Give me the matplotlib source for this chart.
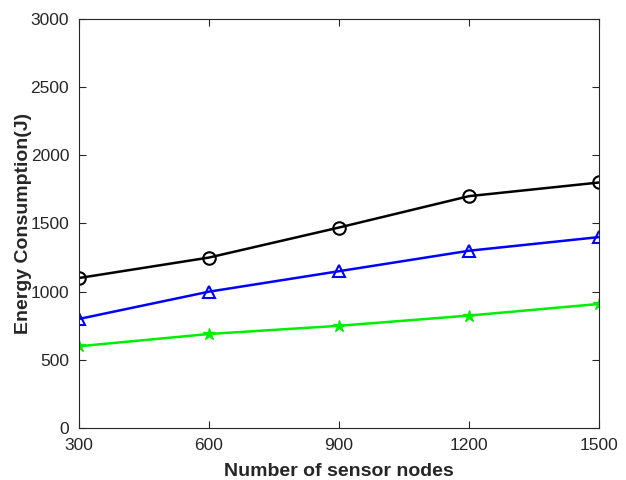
import matplotlib
matplotlib.use("Agg")
import matplotlib.pyplot as plt

plt.rcParams['font.family'] = ['Liberation Sans', 'DejaVu Sans']

nodes = [300, 600, 900, 1200, 1500]
series_black = [1100, 1250, 1470, 1700, 1800]
series_blue = [800, 1000, 1150, 1300, 1400]
series_green = [600, 690, 750, 825, 910]
yticks = [0, 500, 1000, 1500, 2000, 2500, 3000]

fig = plt.figure(figsize=(6.26, 4.8), dpi=100)
ax = fig.add_axes([0.126, 0.108, 0.831, 0.853])

ax.plot(nodes, series_black, color='black', lw=1.8, marker='o', ms=9,
        mfc='none', mec='black', mew=1.5)
ax.plot(nodes, series_blue, color='blue', lw=1.8, marker='^', ms=9,
        mfc='none', mec='blue', mew=1.5)
ax.plot(nodes, series_green, color='#00ee00', lw=1.8, marker='*', ms=9,
        mfc='#00ee00', mec='#00ee00', mew=1)

ax.set_xlim(300, 1500)
ax.set_ylim(0, 3000)
ax.set_xticks(nodes)
ax.set_yticks(yticks)
ax.tick_params(direction='in', top=True, right=True, length=5,
               labelsize=12.5, colors='#262626', width=0.8)
ax.tick_params(axis='x', pad=7)
ax.tick_params(axis='y', pad=7)
for s in ax.spines.values():
    s.set_color('#262626')
    s.set_linewidth(0.8)

ax.set_xlabel('Number of sensor nodes', fontsize=14, fontweight='bold',
              color='#262626', labelpad=7)
ax.set_ylabel('Energy Consumption(J)', fontsize=14, fontweight='bold',
              color='#262626', labelpad=-1)

fig.savefig('out.png', dpi=100)
